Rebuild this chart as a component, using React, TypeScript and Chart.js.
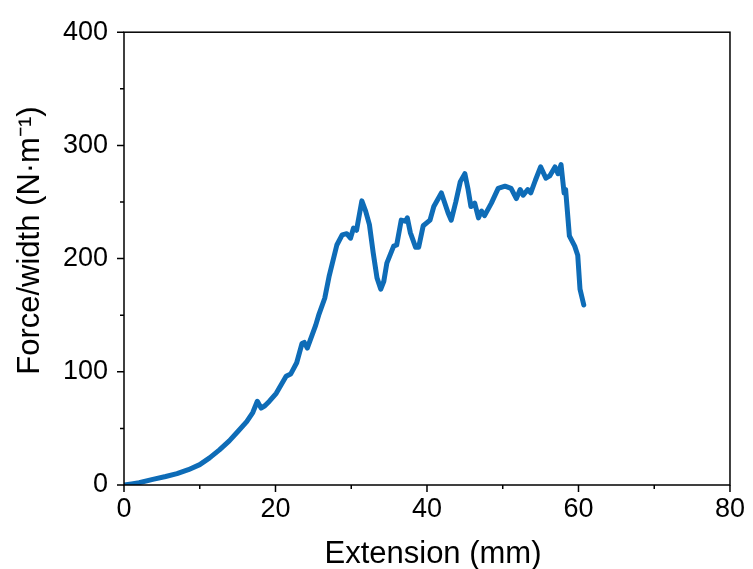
import React, { useEffect, useRef } from "react";
import { Chart, registerables } from "chart.js";

Chart.register(...registerables);

const extensionMm = [0, 1, 2, 3.8, 5.5, 7, 8.5, 10, 11.3, 12.6, 13.9, 15, 16.2, 17, 17.6, 18.1, 18.6, 19.2, 20.1, 21.4, 22, 22.8, 23.5, 23.8, 24.2, 25.3, 25.7, 26.5, 27.1, 28.1, 28.8, 29.4, 29.9, 30.3, 30.7, 31.4, 31.9, 32.4, 32.9, 33.4, 33.9, 34.3, 34.7, 35.6, 36, 36.6, 37.2, 37.4, 37.8, 38.5, 38.9, 39.5, 40.4, 40.9, 41.9, 42.3, 42.8, 43.2, 43.8, 44.4, 45, 45.4, 45.8, 46.3, 46.8, 47.2, 47.6, 48.5, 49.4, 50.3, 51.1, 51.8, 52.3, 52.7, 53.3, 53.7, 54.3, 55, 55.7, 56.2, 56.9, 57.3, 57.7, 58.1, 58.3, 58.8, 59.5, 59.9, 60.2, 60.7];
const forcePerWidth = [0, 1, 2, 5, 7.5, 10, 13.5, 18, 24, 31, 39, 47, 56, 64, 74, 68, 70, 74, 81, 96, 98, 108, 125, 126, 121, 141, 150, 165, 185, 212, 221, 222, 218, 227, 225, 251, 242, 230, 205, 183, 173, 180, 196, 211, 212, 234, 233, 236, 223, 210, 210, 229, 234, 246, 258, 250, 240, 234, 250, 268, 275, 262, 246, 249, 236, 242, 238, 249, 262, 264, 262, 253, 261, 256, 261, 258, 269, 281, 271, 273, 281, 275, 283, 258, 261, 220, 211, 203, 173, 159];

const xMajorTicks = [0, 20, 40, 60, 80];
const xMinorTicks = [10, 30, 50, 70];
const yMajorTicks = [0, 100, 200, 300, 400];
const yMinorTicks = [50, 150, 250, 350];

const xTitle = "Extension (mm)";
const yTitle = "Force/width (N·m⁻¹)";

const FONT = "'Liberation Sans', Arial, Helvetica, sans-serif";

const framePlugin = {
  id: "frameTicks",
  afterDraw(chart: any) {
    const { ctx, chartArea } = chart;
    const xs = chart.scales.x;
    const ys = chart.scales.y;
    ctx.save();
    ctx.strokeStyle = "#000";
    ctx.lineWidth = 1.5;
    ctx.strokeRect(chartArea.left, chartArea.top, chartArea.right - chartArea.left, chartArea.bottom - chartArea.top);
    ctx.beginPath();
    const b = chartArea.bottom;
    const l = chartArea.left;
    xMajorTicks.forEach((v) => {
      const p = xs.getPixelForValue(v);
      ctx.moveTo(p, b);
      ctx.lineTo(p, b + 7);
    });
    xMinorTicks.forEach((v) => {
      const p = xs.getPixelForValue(v);
      ctx.moveTo(p, b);
      ctx.lineTo(p, b + 4);
    });
    yMajorTicks.forEach((v) => {
      const p = ys.getPixelForValue(v);
      ctx.moveTo(l, p);
      ctx.lineTo(l - 7, p);
    });
    yMinorTicks.forEach((v) => {
      const p = ys.getPixelForValue(v);
      ctx.moveTo(l, p);
      ctx.lineTo(l - 4, p);
    });
    ctx.stroke();

    // axis titles
    ctx.fillStyle = "#000";
    ctx.font = `31px ${FONT}`;
    ctx.textAlign = "center";
    ctx.textBaseline = "alphabetic";
    ctx.fillText(xTitle, (chartArea.left + chartArea.right) / 2 + 6, 563);
    ctx.translate(39, (chartArea.top + chartArea.bottom) / 2 - 18);
    ctx.rotate(-Math.PI / 2);
    ctx.fillText(yTitle, 0, 0);
    ctx.restore();
  },
};

export default function App() {
  const ref = useRef<HTMLCanvasElement>(null);
  useEffect(() => {
    if (!ref.current) return;
    const points = extensionMm.map((x, i) => ({ x, y: forcePerWidth[i] }));
    const chart = new Chart(ref.current, {
      type: "scatter",
      data: {
        datasets: [
          {
            data: points,
            showLine: true,
            borderColor: "#0e6cb7",
            backgroundColor: "#0e6cb7",
            borderWidth: 5,
            pointRadius: 0,
            tension: 0,
            borderJoinStyle: "round",
            borderCapStyle: "round",
          },
        ],
      },
      options: {
        animation: false,
        responsive: false,
        devicePixelRatio: 1,
        layout: { padding: { top: 29, right: 22, left: 0, bottom: 0 } },
        plugins: { legend: { display: false }, tooltip: { enabled: false } },
        scales: {
          x: {
            type: "linear",
            min: 0,
            max: 80,
            afterFit(scale: any) {
              scale.height = 84;
            },
            afterBuildTicks(scale: any) {
              scale.ticks = xMajorTicks.map((v) => ({ value: v }));
            },
            grid: { display: false, drawTicks: false },
            border: { display: false },
            ticks: {
              color: "#000",
              padding: 8,
              maxRotation: 0,
              font: { family: FONT, size: 27 },
            },
            title: { display: false, text: xTitle },
          },
          y: {
            type: "linear",
            min: 0,
            max: 400,
            afterFit(scale: any) {
              scale.width = 124;
            },
            afterBuildTicks(scale: any) {
              scale.ticks = yMajorTicks.map((v) => ({ value: v }));
            },
            grid: { display: false, drawTicks: false },
            border: { display: false },
            ticks: {
              color: "#000",
              padding: 16,
              font: { family: FONT, size: 27 },
            },
            title: { display: false, text: yTitle },
          },
        },
      },
      plugins: [framePlugin],
    } as any);
    return () => chart.destroy();
  }, []);
  return (
    <div style={{ position: "absolute", left: 0, top: 0, width: 753, height: 569, background: "#fff" }}>
      <canvas ref={ref} width={753} height={569} style={{ display: "block", width: 753, height: 569 }} />
    </div>
  );
}
